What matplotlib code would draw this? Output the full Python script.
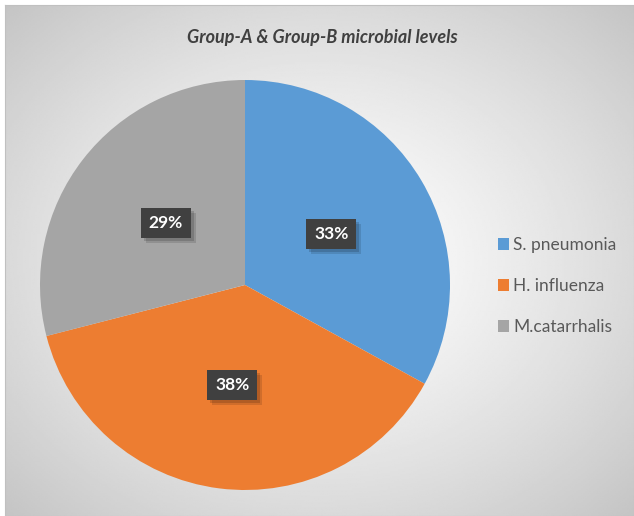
import matplotlib.pyplot as plt
import numpy as np
from matplotlib.patches import Patch, Rectangle

labels = ['S. pneumonia', 'H. influenza', 'M.catarrhalis']
shares = [33, 38, 29]
colors = ['#5b9bd5', '#ed7d31', '#a5a5a5']
title = 'Group-A & Group-B microbial levels'

plt.rcParams['font.family'] = ['Lato', 'DejaVu Sans']

W, H = 634, 516
fig = plt.figure(figsize=(W / 100, H / 100), dpi=100, facecolor='white')

# background panel with radial gradient
bg = fig.add_axes([5 / W, 0, 1 - 5 / W, 1 - 5 / H])
yy, xx = np.mgrid[0:1:300j, 0:1:300j]
d = np.sqrt((xx - 0.5) ** 2 + (yy - 0.5) ** 2) / np.sqrt(0.5)
shade = 1.0 - 0.23 * np.clip(d, 0, 1) ** 1.3
bg.imshow(shade, cmap='gray', vmin=0, vmax=1, extent=[0, 1, 0, 1], aspect='auto',
          interpolation='bilinear')
bg.set_xticks([])
bg.set_yticks([])
for s in bg.spines.values():
    s.set_color('#c0c0c0')
    s.set_linewidth(0.8)

# pie
cx, cy, r = 245, 285, 205
ax = fig.add_axes([(cx - r) / W, (H - cy - r) / H, 2 * r / W, 2 * r / H])
wedges, _ = ax.pie(shares, colors=colors, startangle=90, counterclock=False, radius=1,
                   wedgeprops={'linewidth': 0})
ax.set_xlim(-1, 1)
ax.set_ylim(-1, 1)
ax.set_aspect('equal')
ax.axis('off')

# label boxes: 50x30 px, shadow offset ~5px
bw, bh, off = 50 / r, 30 / r, 5 / r
total = sum(shares)
start = 90
for w, v in zip(wedges, shares):
    span = 360 * v / total
    mid = np.deg2rad(start - span / 2)
    start -= span
    x, y = 0.49 * np.cos(mid), 0.49 * np.sin(mid)
    for k, a in [(1.0, 0.12), (0.6, 0.15)]:
        ax.add_patch(Rectangle((x - bw / 2 + off * k, y - bh / 2 - off * k), bw, bh,
                               fc='black', ec='none', alpha=a))
    ax.add_patch(Rectangle((x - bw / 2, y - bh / 2), bw, bh, fc='#404040', ec='none'))
    ax.text(x, y, f'{v}%', ha='center', va='center', fontsize=12.5, fontweight='bold',
            color='white')

fig.text(322 / W, 1 - 37 / H, title, ha='center', va='center', fontsize=13,
         fontweight='bold', fontstyle='italic', color='#404040')

handles = [Patch(facecolor=c, edgecolor='none') for c in colors]
fig.legend(handles, labels, loc='center left', bbox_to_anchor=(482 / W, 1 - 286 / H),
           frameon=False, fontsize=12.5, labelcolor='#595959', handlelength=0.65,
           handleheight=0.65, handletextpad=0.25, labelspacing=1.45)

fig.savefig('out.png', dpi=100, facecolor='white')
